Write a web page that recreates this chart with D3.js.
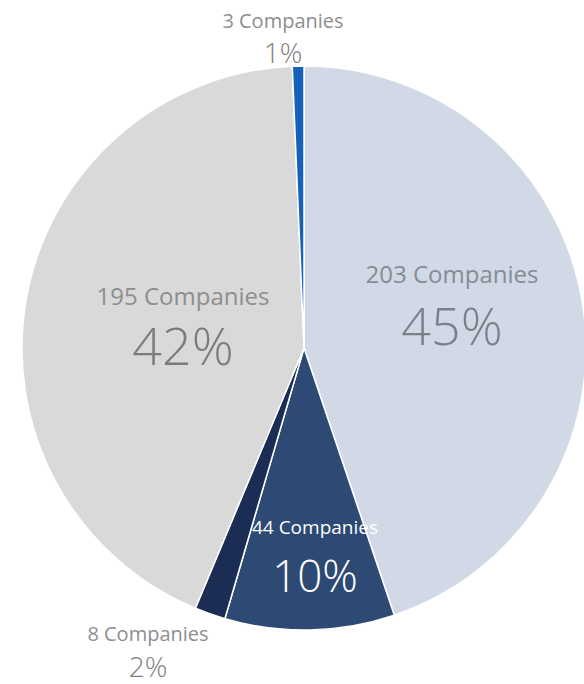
<!DOCTYPE html>
<html>
<head>
<meta charset="utf-8">
<script src="https://cdn.jsdelivr.net/npm/d3@7"></script>
<style>
  html, body { margin: 0; padding: 0; background: #ffffff; }
  svg { display: block; }
  text { font-family: "Open Sans", "DejaVu Sans", sans-serif; }
  text.pct { font-weight: 300; }
</style>
</head>
<body>
<svg id="chart" width="584" height="684"></svg>
<script>
// Company counts per group, clockwise from 12 o'clock
const groups   = ["g203", "g44", "g8", "g195", "g3"];
const counts   = [203, 44, 8, 195, 3];
const percents = ["45%", "10%", "2%", "42%", "1%"];
const names    = ["203 Companies", "44 Companies", "8 Companies", "195 Companies", "3 Companies"];
const colors   = ["#d0d9e5", "#2c4a74", "#1b2d55", "#d9d9d9", "#1661b9"];

// Label placement (name line, percentage line) and styling per group
const labelPos = [
  { x: 452, y1: 283, y2: 345, s1: 24, s2: 52, c1: "#868c96", c2: "#7b818b" },
  { x: 315, y1: 534, y2: 592, s1: 19, s2: 44, c1: "#ffffff", c2: "#ffffff" },
  { x: 148, y1: 641, y2: 677, s1: 20, s2: 28, c1: "#8e8e8e", c2: "#7f7f7f" },
  { x: 183, y1: 305, y2: 365, s1: 24, s2: 52, c1: "#8e8e8e", c2: "#7c7c7c" },
  { x: 283, y1: 28,  y2: 63,  s1: 20, s2: 28, c1: "#8e8e8e", c2: "#7f7f7f" }
];

const svg = d3.select("#chart");
const cx = 304, cy = 348, R = 282;

const pie = d3.pie().sort(null).value(d => d.value).startAngle(0).endAngle(2 * Math.PI);
const arc = d3.arc().innerRadius(0).outerRadius(R);

const data = groups.map((g, i) => ({ key: g, value: counts[i], color: colors[i] }));
const arcs = pie(data);

const g = svg.append("g").attr("transform", `translate(${cx},${cy})`);

g.selectAll("path.slice")
  .data(arcs)
  .join("path")
  .attr("class", "slice")
  .attr("d", arc)
  .attr("fill", d => d.data.color)
  .attr("stroke", "#ffffff")
  .attr("stroke-width", 1.5)
  .attr("stroke-linejoin", "round");

// Labels: name line above, percentage line below
const labels = svg.append("g");
groups.forEach((k, i) => {
  const p = labelPos[i];
  labels.append("text")
    .attr("x", p.x).attr("y", p.y1)
    .attr("text-anchor", "middle")
    .attr("font-size", p.s1)
    .attr("fill", p.c1)
    .text(names[i]);
  labels.append("text")
    .attr("class", "pct")
    .attr("x", p.x).attr("y", p.y2)
    .attr("text-anchor", "middle")
    .attr("font-size", p.s2)
    .attr("fill", p.c2)
    .text(percents[i]);
});
</script>
</body>
</html>
